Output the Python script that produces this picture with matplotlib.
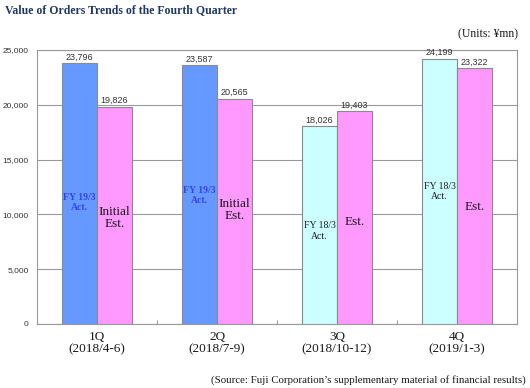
import matplotlib
matplotlib.use("Agg")
import matplotlib.pyplot as plt
import numpy as np

quarters = ["1Q\n(2018/4-6)", "2Q\n(2018/7-9)", "3Q\n(2018/10-12)", "4Q\n(2019/1-3)"]
actual = [23796, 23587, 18026, 24199]
estimate = [19826, 20565, 19403, 23322]
actual_colors = ["#6699FF", "#6699FF", "#CCFFFF", "#CCFFFF"]
estimate_color = "#FF99FF"
actual_texts = ["FY 19/3\nAct.", "FY 19/3\nAct.", "FY 18/3\nAct.", "FY 18/3\nAct."]
estimate_texts = ["Initial\nEst.", "Initial\nEst.", "Est.", "Est."]
actual_text_y = [11100, 11700, 8500, 12100]
estimate_text_y = [9700, 10400, 9300, 10700]
yticks = [0, 5000, 10000, 15000, 20000, 25000]

fig = plt.figure(figsize=(5.3, 3.88), dpi=100)
ax = fig.add_axes([37/530, 1-324/388, 480/530, 274/388])

x = np.arange(len(quarters))
w = 0.29
ax.bar(x - w/2, actual, width=w, color=actual_colors, edgecolor="#8a8a8a", linewidth=0.8, zorder=3)
ax.bar(x + w/2, estimate, width=w, color=estimate_color, edgecolor="#8a8a8a", linewidth=0.8, zorder=3)

for i in range(len(x)):
    ax.text(x[i] - w/2, actual[i] + 150, f"{actual[i]:,}", ha="center", va="bottom",
            fontsize=6.5, family="Liberation Sans", color="#333333", zorder=4)
    ax.text(x[i] + w/2, estimate[i] + 150, f"{estimate[i]:,}", ha="center", va="bottom",
            fontsize=6.5, family="Liberation Sans", color="#333333", zorder=4)
    if i < 2:
        ax.text(x[i] - w/2, actual_text_y[i], actual_texts[i], ha="center", va="center",
                fontsize=7, family="Liberation Serif", fontweight="bold", color="#3344EE",
                linespacing=1.1, zorder=4)
        ax.text(x[i] + w/2, estimate_text_y[i], estimate_texts[i], ha="center", va="center",
                fontsize=9.5, family="Liberation Serif", color="#1a1a1a", linespacing=1.0, zorder=4)
    else:
        ax.text(x[i] - w/2, actual_text_y[i], actual_texts[i], ha="center", va="center",
                fontsize=7, family="Liberation Serif", color="#1a1a1a", linespacing=1.2, zorder=4)
        ax.text(x[i] + w/2, estimate_text_y[i], estimate_texts[i], ha="center", va="center",
                fontsize=9.5, family="Liberation Serif", color="#1a1a1a", zorder=4)

ax.set_xlim(-0.5, len(x) - 0.5)
ax.set_ylim(0, 25000)
ax.set_yticks(yticks)
ax.set_yticklabels([f"{v:,}" for v in yticks], fontsize=6, family="Liberation Sans", color="#333333")
ax.yaxis.grid(True, color="#999999", linewidth=0.8, zorder=0)
ax.tick_params(axis="y", length=0, pad=6)
ax.set_xticks(x)
ax.set_xticklabels(quarters, fontsize=9.5, family="Liberation Serif", color="#1a1a1a", linespacing=1.05)
ax.tick_params(axis="x", length=0, pad=5)
ax.set_xticks(np.arange(0.5, len(x) - 0.5, 1.0), minor=True)
ax.tick_params(axis="x", which="minor", direction="in", length=3, color="#888888")
for s in ax.spines.values():
    s.set_color("#999999")
    s.set_linewidth(0.8)

fig.text(5/530, 1-10/388, "Value of Orders Trends of the Fourth Quarter", ha="left", va="center",
         fontsize=8.5, family="Liberation Serif", fontweight="bold", color="#1F3864")
fig.text(518/530, 1-34/388, "(Units: ¥mn)", ha="right", va="center",
         fontsize=8.5, family="Liberation Serif", color="#1a1a1a")
fig.text(526/530, 1-380/388, "(Source: Fuji Corporation\u2019s supplementary material of financial results)",
         ha="right", va="center", fontsize=7.8, family="Liberation Serif", color="#1a1a1a")

fig.savefig("out.png", dpi=100, facecolor="white")
